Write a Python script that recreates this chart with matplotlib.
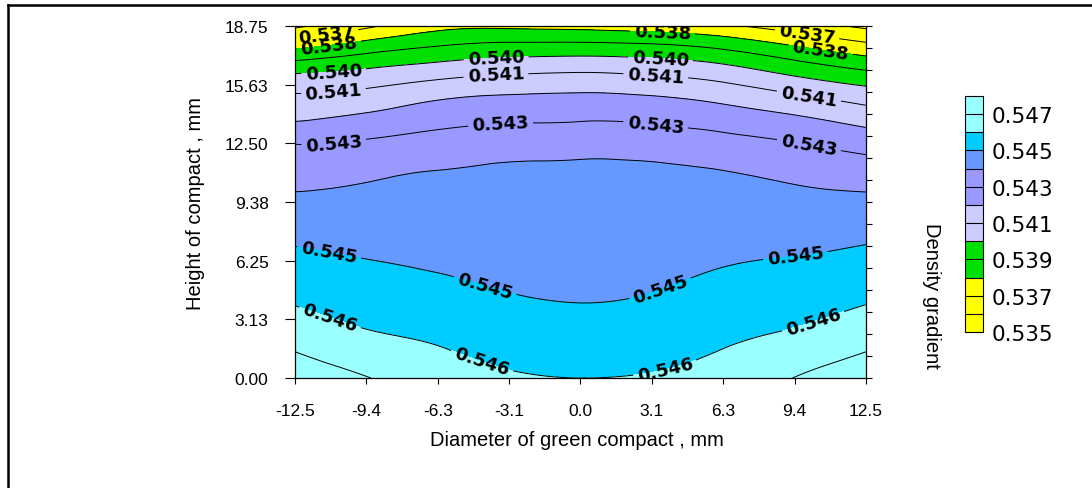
# -*- coding: utf-8 -*-

import matplotlib.pyplot as plt
import matplotlib.tri as mtri
import numpy as np
from matplotlib.lines import Line2D
from matplotlib.ticker import MultipleLocator

plt.rcParams['font.family'] = ['Liberation Sans', 'DejaVu Sans']

# grid of the compact: diameter (mm) across, height (mm) up
diameter = [-12.5, -9.375, -6.25, -3.125, 0.0, 3.125, 6.25, 9.375, 12.5]
height = [0.0, 1.5625, 3.125, 4.6875, 6.25, 7.8125, 9.375,
          10.9375, 12.5, 14.0625, 15.625, 17.1875, 18.75]

# density gradient, one row per height (bottom to top)
density = [
    [0.54760, 0.54704, 0.54644, 0.54611, 0.54600, 0.54607, 0.54636, 0.54702, 0.54760],
    [0.54693, 0.54639, 0.54604, 0.54573, 0.54561, 0.54571, 0.54600, 0.54641, 0.54693],
    [0.54627, 0.54584, 0.54563, 0.54536, 0.54523, 0.54535, 0.54564, 0.54587, 0.54629],
    [0.54572, 0.54543, 0.54522, 0.54497, 0.54485, 0.54497, 0.54528, 0.54547, 0.54574],
    [0.54524, 0.54502, 0.54487, 0.54472, 0.54470, 0.54472, 0.54493, 0.54506, 0.54527],
    [0.54474, 0.54468, 0.54459, 0.54455, 0.54458, 0.54455, 0.54463, 0.54468, 0.54477],
    [0.54421, 0.54428, 0.54432, 0.54438, 0.54445, 0.54438, 0.54434, 0.54428, 0.54422],
    [0.54362, 0.54385, 0.54404, 0.54420, 0.54428, 0.54420, 0.54404, 0.54378, 0.54352],
    [0.54297, 0.54314, 0.54337, 0.54352, 0.54357, 0.54351, 0.54333, 0.54303, 0.54262],
    [0.54169, 0.54205, 0.54252, 0.54274, 0.54279, 0.54271, 0.54239, 0.54196, 0.54141],
    [0.54065, 0.54083, 0.54127, 0.54153, 0.54163, 0.54148, 0.54112, 0.54050, 0.53991],
    [0.53855, 0.53913, 0.53959, 0.53988, 0.53995, 0.53983, 0.53943, 0.53867, 0.53795],
    [0.53580, 0.53680, 0.53770, 0.53780, 0.53770, 0.53750, 0.53715, 0.53650, 0.53580],
]

levels = [0.535, 0.536, 0.537, 0.538, 0.539, 0.540, 0.541,
          0.542, 0.543, 0.544, 0.545, 0.546, 0.547, 0.548]
band_colors = ['#ffff00', '#ffff00', '#ffff00', '#00e000', '#00e000',
               '#ccccff', '#ccccff', '#9999ff', '#9999ff', '#6699ff',
               '#00ccff', '#99ffff', '#99ffff']
bar_ticks = [0.535, 0.537, 0.539, 0.541, 0.543, 0.545, 0.547]
plain_lines = [0.536, 0.539, 0.542, 0.544, 0.547]

x_ticks = [-12.5, -9.375, -6.25, -3.125, 0.0, 3.125, 6.25, 9.375, 12.5]
x_labels = ['-12.5', '-9.4', '-6.3', '-3.1', '0.0', '3.1', '6.3', '9.4', '12.5']
y_ticks = [0.0, 3.125, 6.25, 9.375, 12.5, 15.625, 18.75]
y_labels = ['0.00', '3.13', '6.25', '9.38', '12.50', '15.63', '18.75']

# labelled lines and where their numbers sit
label_spots = {
    0.537: [(-11.1, 18.0), (9.9, 18.1)],
    0.538: [(-11.0, 17.4), (3.6, 18.4), (10.5, 17.4)],
    0.540: [(-10.8, 16.2), (-3.7, 17.2), (3.5, 17.0)],
    0.541: [(-10.8, 15.1), (-3.7, 16.1), (3.3, 16.1), (10.0, 15.0)],
    0.543: [(-10.8, 12.5), (-3.5, 13.6), (3.3, 13.6), (10.0, 12.4)],
    0.545: [(-11.0, 6.7), (-4.2, 4.8), (3.5, 4.7), (9.4, 6.6)],
    0.546: [(-11.0, 3.1), (-4.4, 0.6), (3.7, 0.5), (10.2, 3.0)],
}

fig = plt.figure(figsize=(10.92, 4.89), dpi=100)
ax = fig.add_axes([0.2701, 0.2249, 0.5229, 0.7199])

# smooth the grid with matplotlib's cubic refiner
X, Y = np.meshgrid(diameter, height)
Z = np.array(density)
tri = mtri.Triangulation(X.ravel(), Y.ravel())
refiner = mtri.UniformTriRefiner(tri)
tri_fine, z_fine = refiner.refine_field(Z.ravel(), subdiv=3)

cf = ax.tricontourf(tri_fine, z_fine, levels=levels, colors=band_colors)
ax.tricontour(tri_fine, z_fine, levels=plain_lines, colors='black',
              linewidths=0.7)

with plt.rc_context({'font.family': ['DejaVu Sans'], 'font.weight': 'bold'}):
    for lev, spots in label_spots.items():
        cs = ax.tricontour(tri_fine, z_fine, levels=[lev], colors='black',
                           linewidths=0.7)
        cs.clabel(manual=spots, fmt='%.3f', fontsize=13,
                  inline=True, inline_spacing=4)

ax.set_xlim(-12.5, 12.5)
ax.set_ylim(0, 18.75)
ax.set_xticks(x_ticks)
ax.set_xticklabels(x_labels)
ax.set_yticks(y_ticks)
ax.set_yticklabels(y_labels)
ax.yaxis.set_minor_locator(MultipleLocator(18.75 / 16))
ax.yaxis.remove_overlapping_locs = False
ax.tick_params(axis='x', which='major', direction='out', length=4, width=0.8,
               pad=14, labelsize=12.5)
ax.tick_params(axis='y', which='major', direction='out', length=7, width=0.8,
               pad=12, labelsize=12.5)
ax.tick_params(axis='y', which='minor', left=False, right=True,
               direction='out', length=4, width=0.8)
for sp in ax.spines.values():
    sp.set_linewidth(0.9)

ax.set_xlabel('Diameter of green compact , mm', fontsize=14.5)
ax.xaxis.set_label_coords(0.494, -0.148)
ax.set_ylabel('Height of compact , mm', fontsize=14.5)
ax.yaxis.set_label_coords(-0.158, 0.5)

# colour key on the right
cax = fig.add_axes([965 / 1092, 1 - 333 / 489, 18 / 1092, 236 / 489])
cb = fig.colorbar(cf, cax=cax, ticks=bar_ticks, drawedges=True)
cb.outline.set_linewidth(0.8)
cb.dividers.set_color('black')
cb.dividers.set_linewidth(0.8)
cax.tick_params(length=0, pad=6)
cax.set_yticklabels(['%.3f' % t for t in bar_ticks], fontsize=15.5,
                    family='DejaVu Sans')
fig.text(931 / 1092, 1 - 296 / 489, 'Density gradient', rotation=270,
         ha='center', va='center', fontsize=14.5)

# frame edges along the top and left
fig.add_artist(Line2D([7.5 / 1092, 1.0], [1 - 5.5 / 489, 1 - 5.5 / 489],
                      color='black', linewidth=1.8))
fig.add_artist(Line2D([7.5 / 1092, 7.5 / 1092], [0.0, 1 - 5.5 / 489],
                      color='black', linewidth=1.8))

fig.savefig('out.png', dpi=100)
